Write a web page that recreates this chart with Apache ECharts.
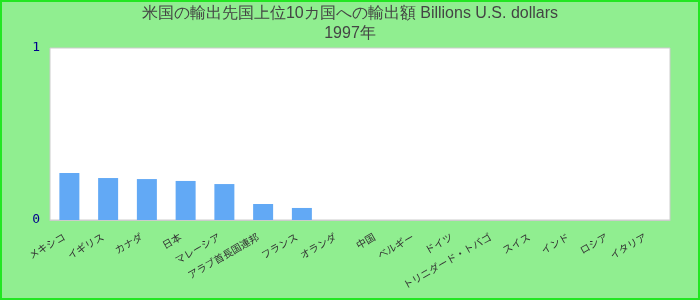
<!DOCTYPE html>
<html><head><meta charset="utf-8">
<script src="https://cdn.jsdelivr.net/npm/echarts@6/dist/echarts.min.js"></script>
<style>html,body{margin:0;padding:0;background:#90EE90}#c{width:700px;height:300px}</style>
</head><body><div id="c"></div>
<script>
const titleLine1 = "米国の輸出先国上位10カ国への輸出額 Billions U.S. dollars";
const titleLine2 = "1997年";
const categories = ["メキシコ","イギリス","カナダ","日本","マレーシア","アラブ首長国連邦","フランス","オランダ","中国","ベルギー","ドイツ","トリニダード・トバゴ","スイス","インド","ロシア","イタリア"];
const values = [0.273, 0.244, 0.238, 0.227, 0.209, 0.093, 0.070, 0, 0, 0, 0, 0, 0, 0, 0, 0];
const yTicks = [0, 1];

const chart = echarts.init(document.getElementById('c'), null, {renderer:'canvas'});
chart.setOption({
  backgroundColor: '#90EE90',
  animation: false,
  title: {
    text: titleLine1 + "\n" + titleLine2,
    left: 'center', top: -1,
    textStyle: {fontFamily: 'Liberation Sans, Arial, sans-serif', fontSize: 16, fontWeight: 'normal', color: '#444', lineHeight: 20}
  },
  graphic: [{type:'rect', shape:{x:1,y:1,width:698,height:298}, style:{fill:'none', stroke:'#22e622', lineWidth:2}, silent:true, z:100}],
  grid: {left: 50, right: 30, top: 48, bottom: 80, show: true, backgroundColor: '#fff', borderColor: '#ccc', borderWidth: 1},
  xAxis: {
    type: 'category', data: categories,
    axisTick: {show: false},
    axisLine: {lineStyle: {color: '#ccc'}},
    axisLabel: {rotate: 30, interval: 0, fontSize: 10, color: '#333', margin: 13, padding: [0, 6, 0, 0], fontFamily: 'Noto Sans CJK JP, sans-serif'}
  },
  yAxis: {
    type: 'value', min: yTicks[0], max: yTicks[yTicks.length-1], interval: 1,
    splitLine: {show: false},
    axisLine: {show: false}, axisTick: {show: false},
    axisLabel: {color: '#00008b', fontSize: 13, fontFamily: 'DejaVu Sans Mono, monospace', margin: 10, padding: [6, 0, 0, 0]}
  },
  series: [{type: 'bar', data: values, barWidth: 20, itemStyle: {color: '#62a9f5'}}]
});
</script></body></html>
